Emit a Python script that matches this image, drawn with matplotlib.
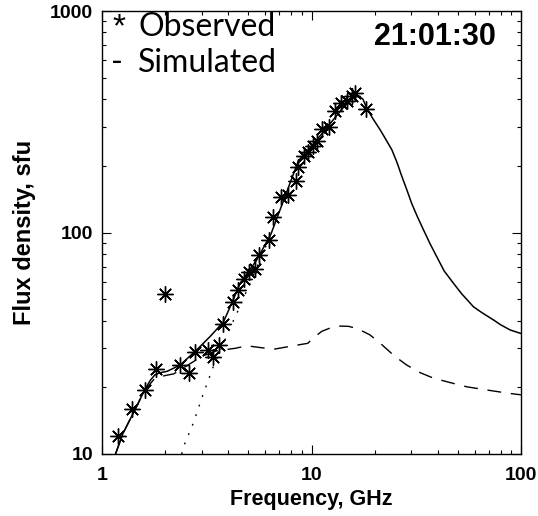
import matplotlib
matplotlib.use("Agg")
import matplotlib.pyplot as plt
from matplotlib.font_manager import FontProperties
from matplotlib.ticker import LogLocator, FixedLocator, FixedFormatter, NullFormatter

# Observed spectrum (GHz, sfu)
obs_freq = [1.19, 1.39, 1.61, 1.81, 2.00, 2.36, 2.59, 2.79, 3.19, 3.37, 3.61, 3.78,
            4.23, 4.48, 4.77, 5.01, 5.35, 5.61, 6.29, 6.58, 7.17, 7.74, 8.41, 8.66,
            9.17, 9.59, 10.15, 10.66, 11.28, 12.17, 13.0, 13.9, 14.7, 15.6, 16.2, 18.3]
obs_flux = [12.0, 15.9, 19.4, 24.3, 52.6, 25.2, 23.2, 28.9, 29.4, 27.4, 31.0, 38.8,
            48.5, 54.8, 61.8, 66.2, 68.6, 78.8, 92.7, 118, 144, 148, 171, 197,
            222, 230, 247, 259, 293, 298, 355, 386, 393, 414, 428, 361]

# Simulated total spectrum (solid)
sim_freq = [1.16, 1.26, 1.41, 1.60, 1.70, 1.79, 1.90, 2.04, 2.36, 2.83, 3.28, 3.80,
            4.16, 4.56, 5.0, 5.48, 6.41, 7.45, 8.66, 10.5, 12.2, 14.2, 15.8, 16.8,
            17.6, 18.4, 19.5, 21.3, 22.7, 24.2, 25.6, 27.0, 28.5, 30.1, 32.0, 34.2,
            36.8, 39.6, 43.0, 47.6, 52.0, 59.3, 65.0, 73.9, 80.0, 88.8, 100]
sim_flux = [10.0, 12.4, 15.3, 19.5, 21.5, 22.8, 23.3, 23.6, 25.2, 29.5, 33.9, 39.5,
            47.9, 59.0, 66.5, 75.2, 98.6, 144, 211, 259, 308, 367, 407, 413,
            400, 362, 330, 290, 262, 236, 207, 179, 156, 135, 118, 103,
            89.0, 77.8, 67.0, 59.0, 53.0, 46.2, 43.5, 40.3, 38.3, 36.3, 35.0]

# Low-frequency component (dashed)
low_freq = [1.16, 1.26, 1.41, 1.60, 1.79, 2.0, 2.2, 2.5, 3.0, 3.5, 4.32, 4.91,
            6.58, 8.51, 9.6, 10.2, 11.2, 12.4, 13.7, 15.0, 16.5, 19.0, 21.3, 25.0,
            28.5, 33.0, 38.2, 46.0, 55.2, 70.0, 87.1, 100]
low_flux = [10.0, 12.4, 15.3, 19.4, 22.0, 22.6, 23.0, 24.8, 27.6, 29.2, 30.0, 30.8,
            29.7, 31.0, 31.6, 33.4, 35.8, 37.2, 37.8, 37.7, 36.9, 34.5, 31.6, 27.6,
            25.2, 23.3, 22.0, 21.0, 20.1, 19.4, 18.8, 18.5]

# High-frequency component (dotted)
high_freq = [2.40, 2.49, 2.73, 3.05, 3.40, 3.80, 4.32, 4.56, 5.0, 5.5, 6.0, 6.41]
high_flux = [10.0, 11.2, 13.8, 18.8, 24.8, 31.6, 41.7, 46.3, 57.0, 70.0, 85.0, 98.6]

W, H = 538, 516
fig = plt.figure(figsize=(W / 100, H / 100), dpi=100)
ax = fig.add_axes([102 / W, 1 - 454 / H, (521 - 102) / W, (454 - 11) / H])

ax.plot(sim_freq, sim_flux, color="black", lw=1.1, solid_joinstyle="round")
ax.plot(low_freq, low_flux, color="black", lw=1.0, dashes=(10, 7))
ax.plot(high_freq, high_flux, color="black", lw=1.0, dashes=(1.3, 6))
ax.plot(obs_freq, obs_flux, linestyle="none", marker=(8, 2, 0), markersize=11.5,
        markeredgewidth=1.0, color="black")

ax.set_xscale("log")
ax.set_yscale("log")
ax.set_xlim(1, 100)
ax.set_ylim(10, 1000)

ax.xaxis.set_major_locator(FixedLocator([1, 10, 100]))
ax.xaxis.set_major_formatter(FixedFormatter(["1", "10", "100"]))
ax.yaxis.set_major_locator(FixedLocator([10, 100, 1000]))
ax.yaxis.set_major_formatter(FixedFormatter(["10", "100", "1000"]))
ax.xaxis.set_minor_locator(LogLocator(base=10, subs=range(2, 10)))
ax.yaxis.set_minor_locator(LogLocator(base=10, subs=range(2, 10)))
ax.xaxis.set_minor_formatter(NullFormatter())
ax.yaxis.set_minor_formatter(NullFormatter())
tick_fp = FontProperties(family="Liberation Sans", weight="bold", size=14)
for lab in ax.get_xticklabels() + ax.get_yticklabels():
    lab.set_fontproperties(tick_fp)

ax.tick_params(which="both", direction="in", top=True, right=True, width=0.8, color="black")
ax.tick_params(which="major", length=6.5)
ax.tick_params(which="minor", length=3)
ax.tick_params(axis="x", which="major", pad=9)
ax.tick_params(axis="y", which="major", pad=6.3)
for s in ax.spines.values():
    s.set_linewidth(1.0)

ax.set_xlabel("Frequency, GHz", family="Liberation Sans", weight="bold", size=15.5, labelpad=4)
ax.set_ylabel("Flux density, sfu", family="Liberation Sans", weight="bold", size=17, labelpad=10)

legend_font = dict(family="Lato", size=23)
fig.text(112 / W, 1 - 36 / H, "*", ha="left", va="baseline",
         family="Liberation Sans", size=24)
fig.text(138 / W, 1 - 36 / H, "Observed", ha="left", va="baseline", **legend_font)
fig.text(111 / W, 1 - 71.7 / H, "-", ha="left", va="baseline", **legend_font)
fig.text(138 / W, 1 - 71.7 / H, "Simulated", ha="left", va="baseline", **legend_font)
fig.text(496 / W, 1 - 45 / H, "21:01:30", ha="right", va="baseline",
         family="Liberation Sans", weight="bold", size=22)

fig.savefig("out.png", dpi=100)
